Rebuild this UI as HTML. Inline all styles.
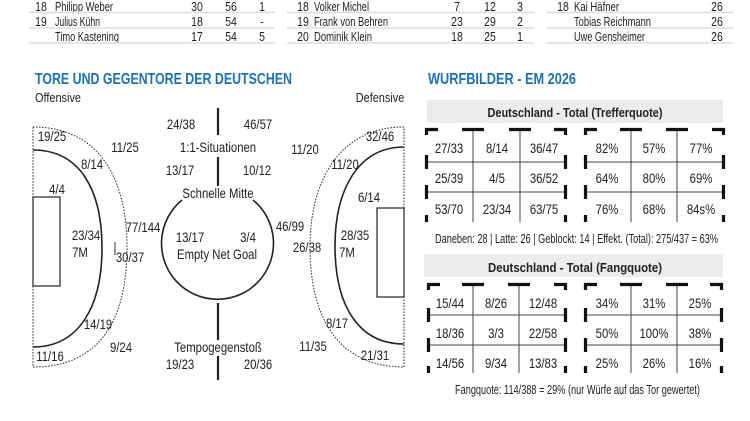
<!DOCTYPE html>
<html><head><meta charset="utf-8"><style>
html,body{margin:0;padding:0;background:#fff;width:750px;height:421px;overflow:hidden}
svg{display:block}
text{font-family:"Liberation Sans",sans-serif;fill:#222}
.m,.c{text-anchor:middle;transform-box:fill-box;transform-origin:center;transform:scaleX(.84)}
.c{font-size:13.5px}
</style></head><body>
<svg width="750" height="421" viewBox="0 0 750 421" xmlns="http://www.w3.org/2000/svg">
<!-- top tables -->
<g font-size="12.5">
<text x="41" y="11" class="m">18</text><text x="55" y="11" textLength="58" lengthAdjust="spacingAndGlyphs">Philipp Weber</text><text x="197" y="11" class="m">30</text><text x="231" y="11" class="m">56</text><text x="262" y="11" class="m">1</text>
<text x="41" y="26" class="m">19</text><text x="55" y="26" textLength="45" lengthAdjust="spacingAndGlyphs">Julius Kühn</text><text x="197" y="26" class="m">18</text><text x="231" y="26" class="m">54</text><text x="262" y="26" class="m">-</text>
<text x="55" y="41" textLength="64" lengthAdjust="spacingAndGlyphs">Timo Kastening</text><text x="197" y="41" class="m">17</text><text x="231" y="41" class="m">54</text><text x="262" y="41" class="m">5</text>
<text x="303" y="11" class="m">18</text><text x="314" y="11" textLength="55" lengthAdjust="spacingAndGlyphs">Volker Michel</text><text x="457" y="11" class="m">7</text><text x="490" y="11" class="m">12</text><text x="520" y="11" class="m">3</text>
<text x="303" y="26" class="m">19</text><text x="314" y="26" textLength="74" lengthAdjust="spacingAndGlyphs">Frank von Behren</text><text x="457" y="26" class="m">23</text><text x="490" y="26" class="m">29</text><text x="520" y="26" class="m">2</text>
<text x="303" y="41" class="m">20</text><text x="314" y="41" textLength="58" lengthAdjust="spacingAndGlyphs">Dominik Klein</text><text x="457" y="41" class="m">18</text><text x="490" y="41" class="m">25</text><text x="520" y="41" class="m">1</text>
<text x="563" y="11" class="m">18</text><text x="574" y="11" textLength="45" lengthAdjust="spacingAndGlyphs">Kai Häfner</text><text x="717" y="11" class="m">26</text>
<text x="574" y="26" textLength="77" lengthAdjust="spacingAndGlyphs">Tobias Reichmann</text><text x="717" y="26" class="m">26</text>
<text x="574" y="41" textLength="71" lengthAdjust="spacingAndGlyphs">Uwe Gensheimer</text><text x="717" y="41" class="m">26</text>
</g>
<g stroke="#ddd" stroke-width="1.5">
<line x1="29" y1="12.5" x2="275" y2="12.5"/><line x1="29" y1="28" x2="275" y2="28"/><line x1="29" y1="43" x2="275" y2="43"/>
<line x1="287" y1="12.5" x2="534" y2="12.5"/><line x1="287" y1="28" x2="534" y2="28"/><line x1="287" y1="43" x2="534" y2="43"/>
<line x1="547" y1="12.5" x2="733" y2="12.5"/><line x1="547" y1="28" x2="733" y2="28"/><line x1="547" y1="43" x2="733" y2="43"/>
</g>
<!-- titles -->
<text x="35" y="84" font-size="16" font-weight="bold" style="fill:#1c70b8" textLength="257" lengthAdjust="spacingAndGlyphs">TORE UND GEGENTORE DER DEUTSCHEN</text>
<text x="428" y="84" font-size="16" font-weight="bold" style="fill:#1c70b8" textLength="148" lengthAdjust="spacingAndGlyphs">WURFBILDER - EM 2026</text>
<text x="58" y="102" class="m" font-size="13">Offensive</text>
<text x="380" y="102" class="m" font-size="13">Defensive</text>

<!-- left court -->
<g fill="none" stroke="#222">
<path d="M33 127 C100 127 127 180 127 247 C127 320 100 367 33 367 Z" stroke-dasharray="1.5 1.5" stroke-width="1"/>
<path d="M33 150 C80 150 102 190 102 248 C102 305 80 347 33 347" stroke-width="1.6"/>
<rect x="33" y="197" width="27" height="89" stroke-width="1.2"/>
<path d="M404 127 C340 127 310 180 310 247 C310 320 340 367 404 367 Z" stroke-dasharray="1.5 1.5" stroke-width="1"/>
<path d="M404 147 C358 147 335 190 335 246 C335 305 358 344 404 344" stroke-width="1.6"/>
<rect x="377" y="208" width="27" height="89" stroke-width="1.2"/>
<g stroke-width="2.2">
<line x1="218" y1="108" x2="218" y2="135"/><line x1="218" y1="157" x2="218" y2="186"/>
<line x1="218" y1="303" x2="218" y2="340"/><line x1="218" y1="356" x2="218" y2="380"/>
</g>
<path d="M182 200 A56 56 0 1 0 253 200" stroke-width="1.6"/>
</g>
<g>
<text x="52" y="141" class="c">19/25</text>
<text x="125" y="152" class="c">11/25</text>
<text x="92" y="169" class="c">8/14</text>
<text x="57" y="194" class="c">4/4</text>
<text x="86" y="240" class="c">23/34</text>
<text x="80" y="257" class="c">7M</text>
<text x="143" y="232" class="c">77/144</text>
<text x="115" y="252" class="c" font-size="10">|</text>
<text x="130" y="262" class="c">30/37</text>
<text x="98" y="329" class="c">14/19</text>
<text x="121" y="352" class="c">9/24</text>
<text x="50" y="361" class="c">11/16</text>
<text x="181" y="129" class="c">24/38</text>
<text x="258" y="129" class="c">46/57</text>
<text x="218" y="152" class="c">1:1-Situationen</text>
<text x="180" y="175" class="c">13/17</text>
<text x="257" y="175" class="c">10/12</text>
<text x="218" y="198" class="c">Schnelle Mitte</text>
<text x="190" y="242" class="c">13/17</text>
<text x="248" y="242" class="c">3/4</text>
<text x="217" y="259" class="c">Empty Net Goal</text>
<text x="290" y="231" class="c">46/99</text>
<text x="307" y="252" class="c">26/38</text>
<text x="218" y="352" class="c">Tempogegenstoß</text>
<text x="180" y="369" class="c">19/23</text>
<text x="258" y="369" class="c">20/36</text>
<text x="305" y="154" class="c">11/20</text>
<text x="380" y="141" class="c">32/46</text>
<text x="345" y="169" class="c">11/20</text>
<text x="369" y="202" class="c">6/14</text>
<text x="355" y="240" class="c">28/35</text>
<text x="347" y="257" class="c">7M</text>
<text x="337" y="328" class="c">8/17</text>
<text x="313" y="351" class="c">11/35</text>
<text x="375" y="360" class="c">21/31</text>
</g>

<!-- wurfbilder -->
<rect x="427" y="100" width="296" height="23" fill="#ececec"/>
<text x="575" y="117" text-anchor="middle" font-size="13" font-weight="bold" textLength="175" lengthAdjust="spacingAndGlyphs">Deutschland - Total (Trefferquote)</text>
<rect x="424" y="254" width="299" height="23" fill="#ececec"/>
<text x="575" y="272" text-anchor="middle" font-size="13" font-weight="bold" textLength="174" lengthAdjust="spacingAndGlyphs">Deutschland - Total (Fangquote)</text>

<g stroke="#444" stroke-width="1" fill="none">
<path d="M473 129V222M520 129V222M425 162H567M425 192H567"/>
<path d="M631 129V222M677 129V222M584 162H725M584 192H725"/>
<path d="M473 284V373M519 284V373M427 315H567M427 345H567"/>
<path d="M631 284V373M677 284V373M584 315H723M584 345H723"/>
</g>
<g stroke="#111" stroke-width="3.2" fill="none">
<path d="M426.5 135V129.5H438M554 129.5H565.5V135M462 129.5H484M509 129.5H531M426.5 155V169M426.5 185V199M565.5 155V169M565.5 185V199M426.5 215V222M565.5 215V222"/>
<path d="M585.5 135V129.5H597M712 129.5H723.5V135M620 129.5H642M666 129.5H688M585.5 155V169M585.5 185V199M723.5 155V169M723.5 185V199M585.5 215V222M723.5 215V222"/>
<path d="M428.5 290V284.5H440M554 284.5H565.5V290M462 284.5H484M508 284.5H530M428.5 308V322M428.5 338V352M565.5 308V322M565.5 338V352M428.5 366V373M565.5 366V373"/>
<path d="M585.5 290V284.5H597M710 284.5H721.5V290M620 284.5H642M666 284.5H688M585.5 308V322M585.5 338V352M721.5 308V322M721.5 338V352M585.5 366V373M721.5 366V373"/>
</g>
<g>
<text x="449" y="153" class="c">27/33</text><text x="497" y="153" class="c">8/14</text><text x="544" y="153" class="c">36/47</text>
<text x="449" y="183" class="c">25/39</text><text x="497" y="183" class="c">4/5</text><text x="544" y="183" class="c">36/52</text>
<text x="449" y="214" class="c">53/70</text><text x="497" y="214" class="c">23/34</text><text x="544" y="214" class="c">63/75</text>
<text x="607" y="153" class="c">82%</text><text x="654" y="153" class="c">57%</text><text x="701" y="153" class="c">77%</text>
<text x="607" y="183" class="c">64%</text><text x="654" y="183" class="c">80%</text><text x="701" y="183" class="c">69%</text>
<text x="607" y="214" class="c">76%</text><text x="654" y="214" class="c">68%</text><text x="701" y="214" class="c">84s%</text>
<text x="450" y="308" class="c">15/44</text><text x="496" y="308" class="c">8/26</text><text x="543" y="308" class="c">12/48</text>
<text x="450" y="338" class="c">18/36</text><text x="496" y="338" class="c">3/3</text><text x="543" y="338" class="c">22/58</text>
<text x="450" y="368" class="c">14/56</text><text x="496" y="368" class="c">9/34</text><text x="543" y="368" class="c">13/83</text>
<text x="607" y="308" class="c">34%</text><text x="654" y="308" class="c">31%</text><text x="700" y="308" class="c">25%</text>
<text x="607" y="338" class="c">50%</text><text x="654" y="338" class="c">100%</text><text x="700" y="338" class="c">38%</text>
<text x="607" y="368" class="c">25%</text><text x="654" y="368" class="c">26%</text><text x="700" y="368" class="c">16%</text>
</g>
<text x="435" y="243" font-size="13" textLength="283" lengthAdjust="spacingAndGlyphs">Daneben: 28 | Latte: 26 | Geblockt: 14 | Effekt. (Total): 275/437 = 63%</text>
<text x="455" y="394" font-size="13" textLength="245" lengthAdjust="spacingAndGlyphs">Fangquote: 114/388 = 29% (nur Würfe auf das Tor gewertet)</text>
</svg>
</body></html>
